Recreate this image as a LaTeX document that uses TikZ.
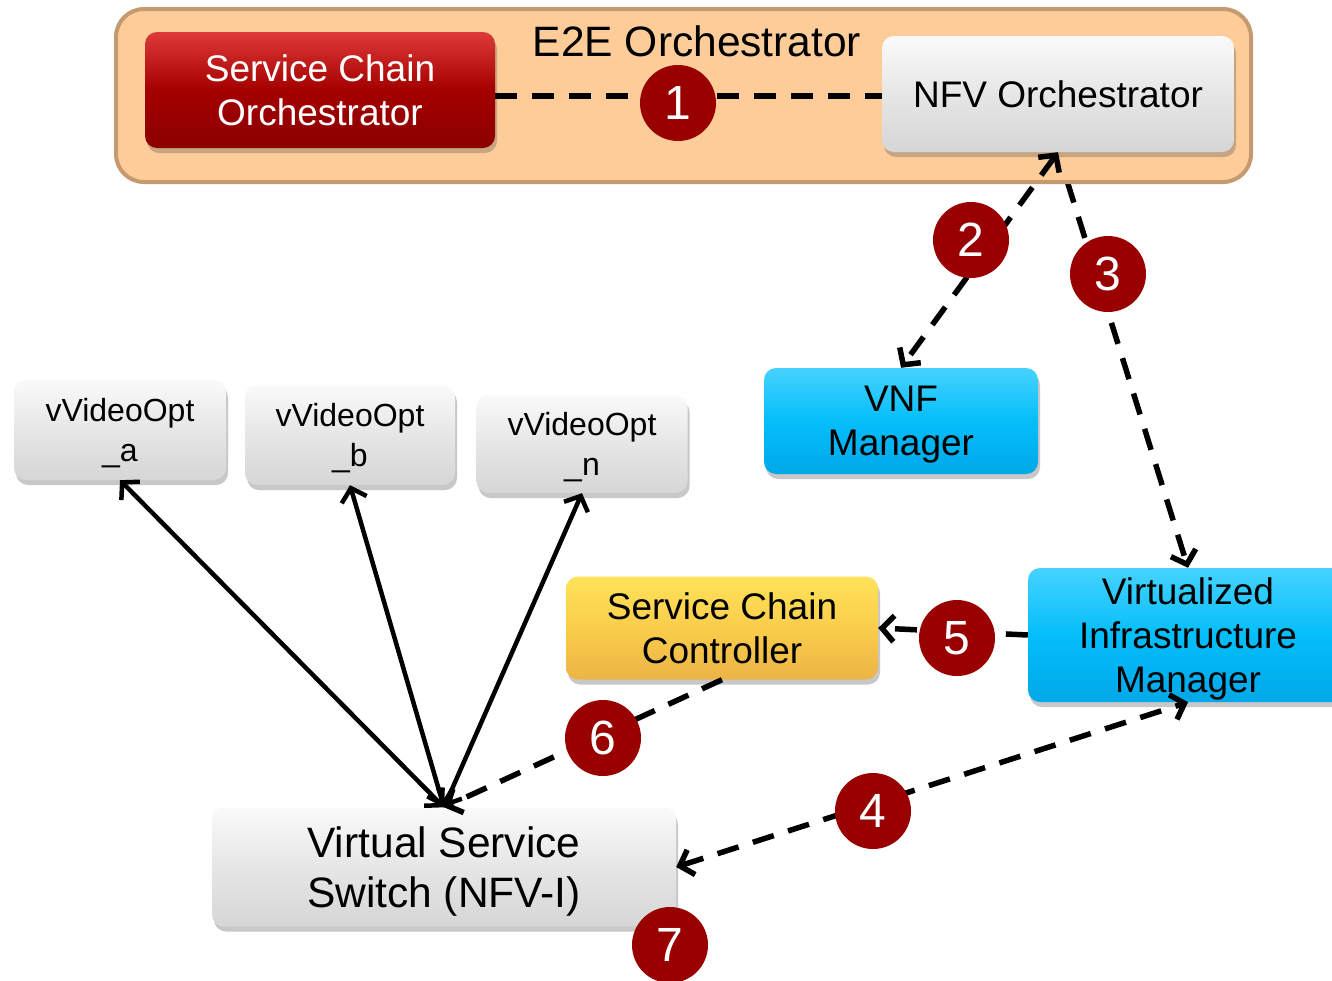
\documentclass[tikz,border=0pt]{standalone}
\usepackage{fontspec}
\setmainfont{Liberation Sans}
\usetikzlibrary{arrows.meta,shadows}

\definecolor{peach}{RGB}{253,204,153}
\definecolor{peachedge}{RGB}{196,154,110}
\definecolor{darkred}{RGB}{153,0,0}
\definecolor{redtop}{RGB}{222,58,58}
\definecolor{redmid}{RGB}{165,0,0}
\definecolor{redbot}{RGB}{138,0,0}
\definecolor{greytop}{RGB}{250,250,250}
\definecolor{greymid}{RGB}{230,230,230}
\definecolor{greybot}{RGB}{214,214,214}
\definecolor{cyantop}{RGB}{70,210,255}
\definecolor{cyanmid}{RGB}{5,190,250}
\definecolor{cyanbot}{RGB}{0,168,232}
\definecolor{yeltop}{RGB}{255,226,90}
\definecolor{yelmid}{RGB}{250,205,75}
\definecolor{yelbot}{RGB}{236,180,70}

\tikzset{
  box/.style={rounded corners=12pt, inner sep=0pt, align=center, text depth=0pt,
    drop shadow={shadow xshift=2pt, shadow yshift=-5pt, opacity=0.3, fill=black!70}},
  greybox/.style={box, top color=greytop, bottom color=greybot, middle color=greymid},
  redbox/.style={box, top color=redtop, bottom color=redbot, middle color=redmid, text=white},
  cyanbox/.style={box, top color=cyantop, bottom color=cyanbot, middle color=cyanmid},
  yelbox/.style={box, top color=yeltop, bottom color=yelbot, middle color=yelmid},
  stepnum/.style={circle, fill=darkred, minimum size=76pt, inner sep=0pt, text=white,
    font=\fontsize{48}{48}\selectfont},
  txtbig/.style={font=\fontsize{42.5}{50}\selectfont},
  txtmid/.style={font=\fontsize{37}{44}\selectfont},
  txtsmall/.style={font=\fontsize{32}{40}\selectfont},
  dashline/.style={line width=5.5pt, dash pattern=on 22pt off 15pt},
  solidline/.style={line width=4.5pt},
  >={Straight Barb[length=12pt, width=26pt]}
}

\begin{document}
\begin{tikzpicture}[x=1pt, y=-1pt]
  \fill[white] (0,0) rectangle (1332,980);
  \useasboundingbox (0,0) rectangle (1332,980);

  % the infrastructure manager comes first so link 3 runs behind the E2E frame
  \node[cyanbox, txtmid, minimum width=320pt, minimum height=134pt] (vim) at (1188,635)
    {Virtualized\\Infrastructure\\Manager};
  \coordinate (nfvofoot) at (1058,152);
  \draw[dashline, ->, dash phase=6pt] (nfvofoot) -- (vim.north);

  % E2E orchestrator frame
  \node[rounded corners=28pt, fill=peach, draw=peachedge, line width=4pt,
        minimum width=1135pt, minimum height=173pt] (e2e) at (683.5,95.5) {};
  \node[txtbig, anchor=base] (e2etitle) at (697,56) {E2E Orchestrator};

  \node[redbox, txtmid, minimum width=350pt, minimum height=116pt] (sco) at (320,90)
    {Service Chain\\Orchestrator};
  \node[greybox, txtmid, minimum width=352pt, minimum height=116pt] (nfvo) at (1058,94)
    {NFV Orchestrator};

  \node[cyanbox, txtmid, minimum width=274pt, minimum height=106pt] (vnfm) at (901,421)
    {VNF\\Manager};

  \node[greybox, txtsmall, minimum width=212pt, minimum height=100pt] (va) at (120,430)
    {vVideoOpt\\\_a};
  \node[greybox, txtsmall, minimum width=210pt, minimum height=100pt] (vb) at (350,435)
    {vVideoOpt\\\_b};
  \node[greybox, txtsmall, minimum width=211pt, minimum height=98pt] (vn) at (582,444)
    {vVideoOpt\\\_n};

  \node[yelbox, txtmid, minimum width=312pt, minimum height=103pt] (scc) at (722,628)
    {Service Chain\\Controller};

  \node[greybox, txtbig, minimum width=464pt, minimum height=119pt] (vss) at (444,867)
    {Virtual Service\\Switch (NFV-I)};

  % connectors
  \draw[dashline] ([yshift=-6pt]sco.east) -- ([yshift=-2pt]nfvo.west);
  \draw[dashline, <->] (nfvo.south) -- (vnfm.north);
  \draw[dashline, <->] (vss.east) -- (vim.south);
  \draw[dashline, ->] (vim.west) -- (scc.east);
  \draw[dashline, ->] (scc.south) -- (vss.north);
  \draw[solidline, <->] (vss.north) -- (va.south);
  \draw[solidline, <->] (vss.north) -- (vb.south);
  \draw[solidline, <->] (vss.north) -- (vn.south);

  % step markers
  \node[stepnum] (s1) at (678,103) {1};
  \node[stepnum] (s2) at (971,240) {2};
  \node[stepnum] (s3) at (1108,274) {3};
  \node[stepnum] (s4) at (873,811) {4};
  \node[stepnum] (s5) at (957,638) {5};
  \node[stepnum] (s6) at (603,738) {6};
  \node[stepnum] (s7) at (670,945) {7};
\end{tikzpicture}
\end{document}
